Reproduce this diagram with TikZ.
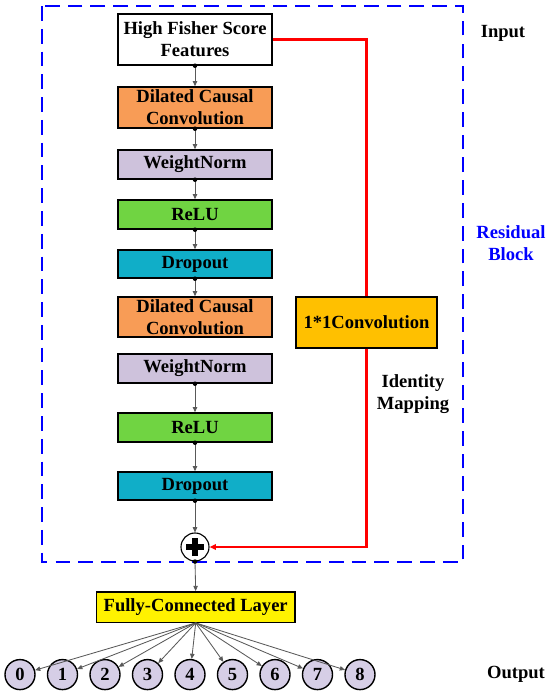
\documentclass[tikz,border=0pt]{standalone}
\usepackage{fontspec}
\setmainfont{Liberation Serif}
\usetikzlibrary{arrows.meta}
\definecolor{dccorange}{RGB}{248,156,86}
\definecolor{wnlilac}{RGB}{206,194,220}
\definecolor{relugreen}{RGB}{112,212,66}
\definecolor{dropteal}{RGB}{16,174,200}
\definecolor{convamber}{RGB}{255,192,0}
\definecolor{outlilac}{RGB}{214,206,230}
\begin{document}
\begin{tikzpicture}[x=0.025cm,y=-0.025cm,>={Triangle[length=1.3mm,width=1.1mm]},
	box/.style={draw, line width=1pt, inner sep=0pt, minimum width=3.85cm, align=center,
		font=\bfseries\fontsize{13.2}{15.6}\selectfont},
	lab/.style={align=center, font=\bfseries\fontsize{13.2}{15.6}\selectfont},
	flow/.style={->, draw=black!65, line width=0.6pt},
	skip/.style={red, line width=2pt},
	outcirc/.style={draw, circle, line width=1pt, fill=outlilac, minimum size=0.75cm,
		inner sep=0pt, font=\bfseries\fontsize{13.2}{15.6}\selectfont}]
	\useasboundingbox (0,0) rectangle (550,692);
	% residual block frame
	\draw[blue, line width=1.4pt, dash pattern=on 10.5pt off 5.7pt] (42,6) rectangle (463,562);
	% main chain
	\node[box, minimum height=1.275cm] (fisher) at (195,39.5) {High Fisher Score\\Features};
	\node[box, fill=dccorange, minimum height=1.025cm] (dcc1) at (195,107.5) {Dilated Causal\\Convolution};
	\node[box, fill=wnlilac, minimum height=0.725cm] (wn1) at (195,164.5) {WeightNorm};
	\node[box, fill=relugreen, minimum height=0.725cm] (relu1) at (195,214.5) {ReLU};
	\node[box, fill=dropteal, minimum height=0.7cm] (drop1) at (195,264) {Dropout};
	\node[box, fill=dccorange, minimum height=1cm] (dcc2) at (195,317) {Dilated Causal\\Convolution};
	\node[box, fill=wnlilac, minimum height=0.725cm] (wn2) at (195,368.5) {WeightNorm};
	\node[box, fill=relugreen, minimum height=0.725cm] (relu2) at (195,427.5) {ReLU};
	\node[box, fill=dropteal, minimum height=0.7cm] (drop2) at (195,486) {Dropout};
	\node[draw, circle, line width=0.8pt, fill=white, minimum size=0.7cm] (add) at (195,547) {};
	\draw[line width=3.6pt] (add.center) ++(-9,0) -- ++(18,0);
	\draw[line width=3.6pt] (add.center) ++(0,-9) -- ++(0,18);
	% shortcut
	\node[box, fill=convamber, minimum width=3.525cm, minimum height=1.275cm] (conv) at (366.5,322.5) {1*1Convolution};
	\draw[skip] (fisher.east) -| (conv.north);
	\draw[skip, -{Triangle[length=1.6mm,width=1.4mm]}] (conv.south) |- (add.east);
	% output part
	\node[box, fill=yellow, minimum width=4.96cm, minimum height=0.76cm] (fc) at (195.7,607) {Fully-Connected Layer};
	\foreach \i in {0,...,8}
		\node[outcirc] (o\i) at (20+42.5*\i,674.6) {\i};
	% connectors
	\foreach \a/\b in {fisher/dcc1, dcc1/wn1, wn1/relu1, relu1/drop1, drop1/dcc2,
		wn2/relu2, relu2/drop2, drop2/add, add/fc}{
		\draw[flow] (\a.south) -- (\b.north);
		\fill (\a.south) circle (1.6pt);
	}
	\foreach \i in {0,...,8}
		\draw[flow] (fc.south) -- (o\i);
	% labels
	\node[lab] (input) at (503,33) {Input};
	\node[lab, text=blue] (resblk) at (511,243) {Residual\\Block};
	\node[lab] (idmap) at (413,394) {Identity\\Mapping};
	\node[lab] (output) at (516,674) {Output};
\end{tikzpicture}
\end{document}
